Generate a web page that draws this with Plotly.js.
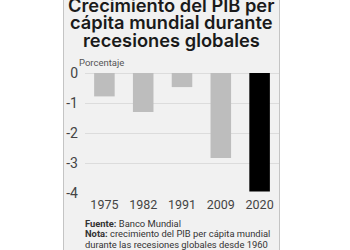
<!DOCTYPE html>
<html>
<head>
<meta charset="utf-8">
<script src="https://cdn.plot.ly/plotly-3.0.1.min.js"></script>
<style>
  html, body { margin: 0; padding: 0; background: #ffffff; }
  #panel { position: absolute; left: 63px; top: 0; width: 215px; height: 250px;
           background: #f1f1f1; border-left: 1px solid #c4c4c4; border-right: 1px solid #c4c4c4; }
  #chart { position: absolute; left: 0; top: 0; width: 350px; height: 250px; }
</style>
</head>
<body>
<div id="panel"></div>
<div id="chart"></div>
<script>
// Crecimiento del PIB per cápita mundial en años de recesión global
const years = ['1975', '1982', '1991', '2009', '2020'];
const growth = [-0.78, -1.3, -0.47, -2.83, -3.95];
const barColors = ['#bdbdbd', '#bdbdbd', '#bdbdbd', '#bdbdbd', '#000000'];
const yTicks = [0, -1, -2, -3, -4];

const titleLines = ['Crecimiento del PIB per', 'cápita mundial durante', 'recesiones globales'];
const footLines = [
  '<b>Fuente:</b> Banco Mundial',
  '<b>Nota:</b> crecimiento del PIB per cápita mundial',
  'durante las recesiones globales desde 1960'
];

const bodyFont = 'Roboto, sans-serif';

const M = { l: 85, r: 71, t: 73, b: 57 };
const plotH = 250 - M.t - M.b;
const plotW = 350 - M.l - M.r;
// helpers: pixel position in the figure -> paper coordinates
const toPaperY = px => (250 - M.b - px) / plotH;
const toPaperX = px => (px - M.l) / plotW;

const layout = {
  width: 350, height: 250,
  margin: M,
  paper_bgcolor: 'rgba(0,0,0,0)',
  plot_bgcolor: 'rgba(0,0,0,0)',
  showlegend: false,
  bargap: 0.47,
  xaxis: {
    type: 'category', showgrid: false, zeroline: false, showline: false,
    ticks: 'outside', ticklen: 0, ticklabelstandoff: 0,
    tickfont: { family: bodyFont, size: 12.5, color: '#444444' }
  },
  yaxis: {
    range: [-4, 0], tickvals: yTicks, ticktext: yTicks.map(String),
    showgrid: true, gridcolor: '#dcdcdc', gridwidth: 1,
    zeroline: true, zerolinecolor: '#dcdcdc', zerolinewidth: 1,
    showline: false, ticks: '', ticklabelstandoff: 6,
    tickfont: { family: bodyFont, size: 14, color: '#444444' }
  },
  annotations: []
};

// Title, one annotation per line for tight leading
const titleY = [5, 22.5, 39.5];
titleLines.forEach((t, i) => {
  layout.annotations.push({
    text: t, xref: 'paper', yref: 'paper', x: toPaperX(171), y: toPaperY(titleY[i]),
    xanchor: 'center', yanchor: 'middle', showarrow: false,
    font: { family: 'Inter, sans-serif', size: 18.3, color: '#1a1a1a', weight: 600 }
  });
});
layout.annotations.push({
  text: 'Porcentaje', xref: 'paper', yref: 'paper', x: toPaperX(77), y: toPaperY(62),
  xanchor: 'left', yanchor: 'middle', showarrow: false,
  font: { family: bodyFont, size: 9.5, color: '#555555' }
});
const footY = [223, 233.5, 244];
footLines.forEach((t, i) => {
  layout.annotations.push({
    text: t, xref: 'paper', yref: 'paper', x: toPaperX(83), y: toPaperY(footY[i]),
    xanchor: 'left', yanchor: 'middle', showarrow: false,
    font: { family: bodyFont, size: 9.4, color: '#333333' }
  });
});

const data = [{
  type: 'bar', x: years, y: growth,
  marker: { color: barColors, line: { width: 0 } },
  hoverinfo: 'none'
}];

Plotly.newPlot('chart', data, layout, { displayModeBar: false, staticPlot: true });
</script>
</body>
</html>
